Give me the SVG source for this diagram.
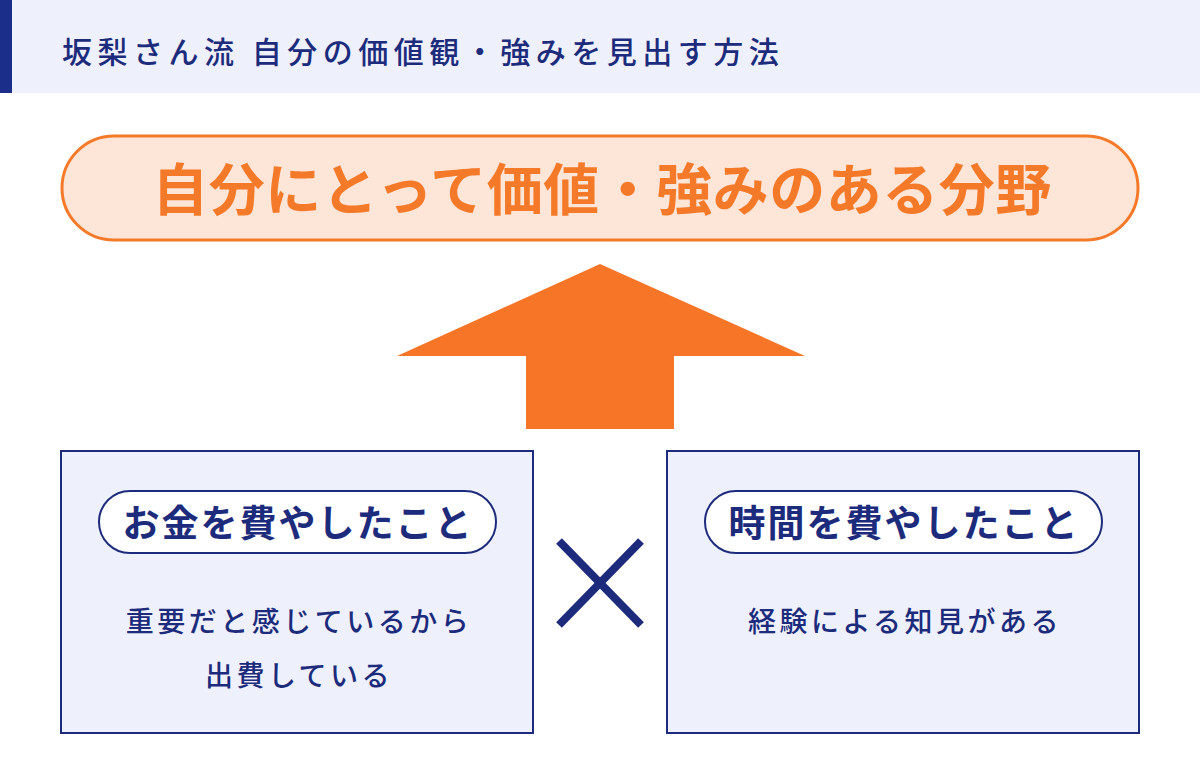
<svg xmlns="http://www.w3.org/2000/svg" width="1200" height="770" viewBox="0 0 1200 770">
<style>
text{font-family:"Noto Sans CJK JP","Noto Sans CJK SC",sans-serif;font-weight:700;text-anchor:middle}
.navy{fill:#1c2b7c}
.box{fill:#eef1fb;stroke:#1c2b7c;stroke-width:2}
.pill{fill:#ffffff;stroke:#1c2b7c;stroke-width:2}
.pt{font-size:37px;letter-spacing:2px}
.bt{font-size:28px;font-weight:500;letter-spacing:3.5px}
</style>
<rect width="1200" height="770" fill="#ffffff"/>
<g id="header">
<rect x="0" y="0" width="1200" height="93" fill="#eef0fb"/>
<rect x="0" y="0" width="12" height="93" fill="#1b2e8a"/>
<text x="62" y="63" class="navy" style="font-size:30px;text-anchor:start;font-weight:500;letter-spacing:5.5px">坂梨さん流 自分の価値観・強みを見出す方法</text>
</g>
<g id="goal">
<rect x="62" y="136" width="1076" height="104" rx="52" fill="#fde6d8" stroke="#f47a2a" stroke-width="3"/>
<text x="602" y="210" style="font-size:56px;fill:#f47a2a;letter-spacing:0.5px">自分にとって価値・強みのある分野</text>
</g>
<g id="connectors">
<polygon points="600,264 805,356 674,356 674,429 526,429 526,356 397,356" fill="#f67527"/>
</g>
<g id="money">
<rect x="61" y="451" width="472" height="282" class="box"/>
<rect x="99" y="491" width="397" height="62" rx="31" class="pill"/>
<text x="298" y="537" class="navy pt">お金を費やしたこと</text>
<text x="299" y="632" class="navy bt">重要だと感じているから</text>
<text x="299" y="686" class="navy bt">出費している</text>
</g>
<g id="times">
<line x1="559" y1="541" x2="641" y2="625" stroke="#1c2b7c" stroke-width="8"/>
<line x1="641" y1="541" x2="559" y2="625" stroke="#1c2b7c" stroke-width="8"/>
</g>
<g id="time">
<rect x="667" y="451" width="472" height="282" class="box"/>
<rect x="705" y="491" width="397" height="62" rx="31" class="pill"/>
<text x="904" y="537" class="navy pt">時間を費やしたこと</text>
<text x="905" y="632" class="navy bt">経験による知見がある</text>
</g>
</svg>
